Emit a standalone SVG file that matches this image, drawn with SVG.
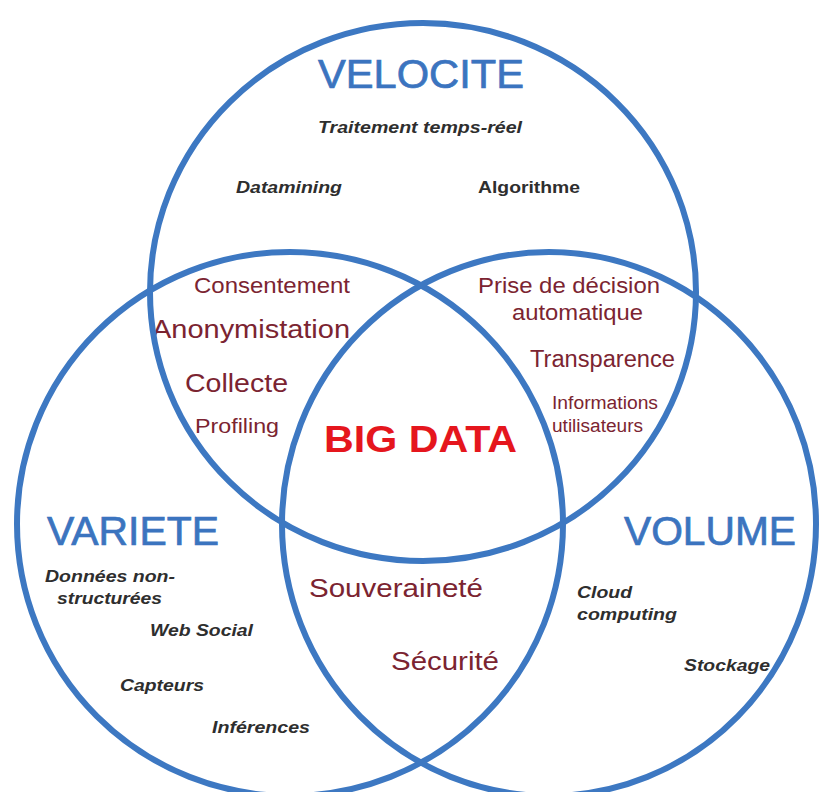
<svg xmlns="http://www.w3.org/2000/svg" width="819" height="792" viewBox="0 0 819 792">
  <style>
    .ring { fill: none; stroke: #3d78c2; stroke-width: 6; }
    .set { font-family: "Liberation Sans", Arial, sans-serif; font-size: 40px; fill: #3b74bf; stroke: #3b74bf; stroke-width: 0.7; text-anchor: middle; }
    .item { font-family: "Liberation Sans", Arial, sans-serif; font-size: 17px; font-weight: bold; font-style: italic; fill: #2e2e2e; }
    .up { font-style: normal; }
    .shared { font-family: "Liberation Sans", Arial, sans-serif; fill: #7b2431; }
    .core { font-family: "Liberation Sans", Arial, sans-serif; font-size: 37px; font-weight: bold; fill: #e5161d; }
  </style>
  <rect width="819" height="792" fill="#ffffff"/>

  <!-- Vélocité set -->
  <g id="velocite">
    <text class="set" x="421" y="88" textLength="206" lengthAdjust="spacingAndGlyphs">VELOCITE</text>
    <text class="item" x="318" y="133" textLength="204" lengthAdjust="spacingAndGlyphs">Traitement temps-réel</text>
    <text class="item" x="236" y="193" textLength="106" lengthAdjust="spacingAndGlyphs">Datamining</text>
    <text class="item up" x="478" y="193" textLength="102" lengthAdjust="spacingAndGlyphs">Algorithme</text>
  </g>

  <!-- Variété set -->
  <g id="variete">
    <text class="set" x="133" y="545" textLength="172" lengthAdjust="spacingAndGlyphs">VARIETE</text>
    <text class="item" x="45" y="582" textLength="130" lengthAdjust="spacingAndGlyphs">Données non-</text>
    <text class="item" x="57" y="604" textLength="105" lengthAdjust="spacingAndGlyphs">structurées</text>
    <text class="item" x="150" y="636" textLength="103" lengthAdjust="spacingAndGlyphs">Web Social</text>
    <text class="item" x="120" y="691" textLength="84" lengthAdjust="spacingAndGlyphs">Capteurs</text>
    <text class="item" x="212" y="733" textLength="98" lengthAdjust="spacingAndGlyphs">Inférences</text>
  </g>

  <!-- Volume set -->
  <g id="volume">
    <text class="set" x="710" y="545" textLength="172" lengthAdjust="spacingAndGlyphs">VOLUME</text>
    <text class="item" x="577" y="598" textLength="55" lengthAdjust="spacingAndGlyphs">Cloud</text>
    <text class="item" x="577" y="620" textLength="100" lengthAdjust="spacingAndGlyphs">computing</text>
    <text class="item" x="684" y="671" textLength="86" lengthAdjust="spacingAndGlyphs">Stockage</text>
  </g>

  <!-- Vélocité ∩ Variété -->
  <g id="velocite-variete">
    <text class="shared" x="194" y="293" font-size="22" textLength="156" lengthAdjust="spacingAndGlyphs">Consentement</text>
    <text class="shared" x="152" y="338" font-size="26" textLength="198" lengthAdjust="spacingAndGlyphs">Anonymistation</text>
    <text class="shared" x="185" y="392" font-size="26" textLength="103" lengthAdjust="spacingAndGlyphs">Collecte</text>
    <text class="shared" x="195" y="433" font-size="21" textLength="84" lengthAdjust="spacingAndGlyphs">Profiling</text>
  </g>

  <!-- Vélocité ∩ Volume -->
  <g id="velocite-volume">
    <text class="shared" x="478" y="293" font-size="22" textLength="182" lengthAdjust="spacingAndGlyphs">Prise de décision</text>
    <text class="shared" x="512" y="320" font-size="22" textLength="131" lengthAdjust="spacingAndGlyphs">automatique</text>
    <text class="shared" x="530" y="367" font-size="23" textLength="145" lengthAdjust="spacingAndGlyphs">Transparence</text>
    <text class="shared" x="552" y="409" font-size="18" textLength="106" lengthAdjust="spacingAndGlyphs">Informations</text>
    <text class="shared" x="552" y="432" font-size="18" textLength="91" lengthAdjust="spacingAndGlyphs">utilisateurs</text>
  </g>

  <!-- Variété ∩ Volume -->
  <g id="variete-volume">
    <text class="shared" x="309" y="597" font-size="26" textLength="174" lengthAdjust="spacingAndGlyphs">Souveraineté</text>
    <text class="shared" x="391" y="670" font-size="26" textLength="108" lengthAdjust="spacingAndGlyphs">Sécurité</text>
  </g>

  <!-- Centre -->
  <g id="big-data">
    <text class="core" x="324" y="452" textLength="193" lengthAdjust="spacingAndGlyphs">BIG DATA</text>
  </g>

  <!-- Set outlines -->
  <g id="rings">
    <ellipse class="ring" cx="423" cy="292" rx="273" ry="269"/>
    <ellipse class="ring" cx="290" cy="524" rx="273" ry="272"/>
    <ellipse class="ring" cx="549" cy="524" rx="267" ry="272"/>
  </g>
</svg>
